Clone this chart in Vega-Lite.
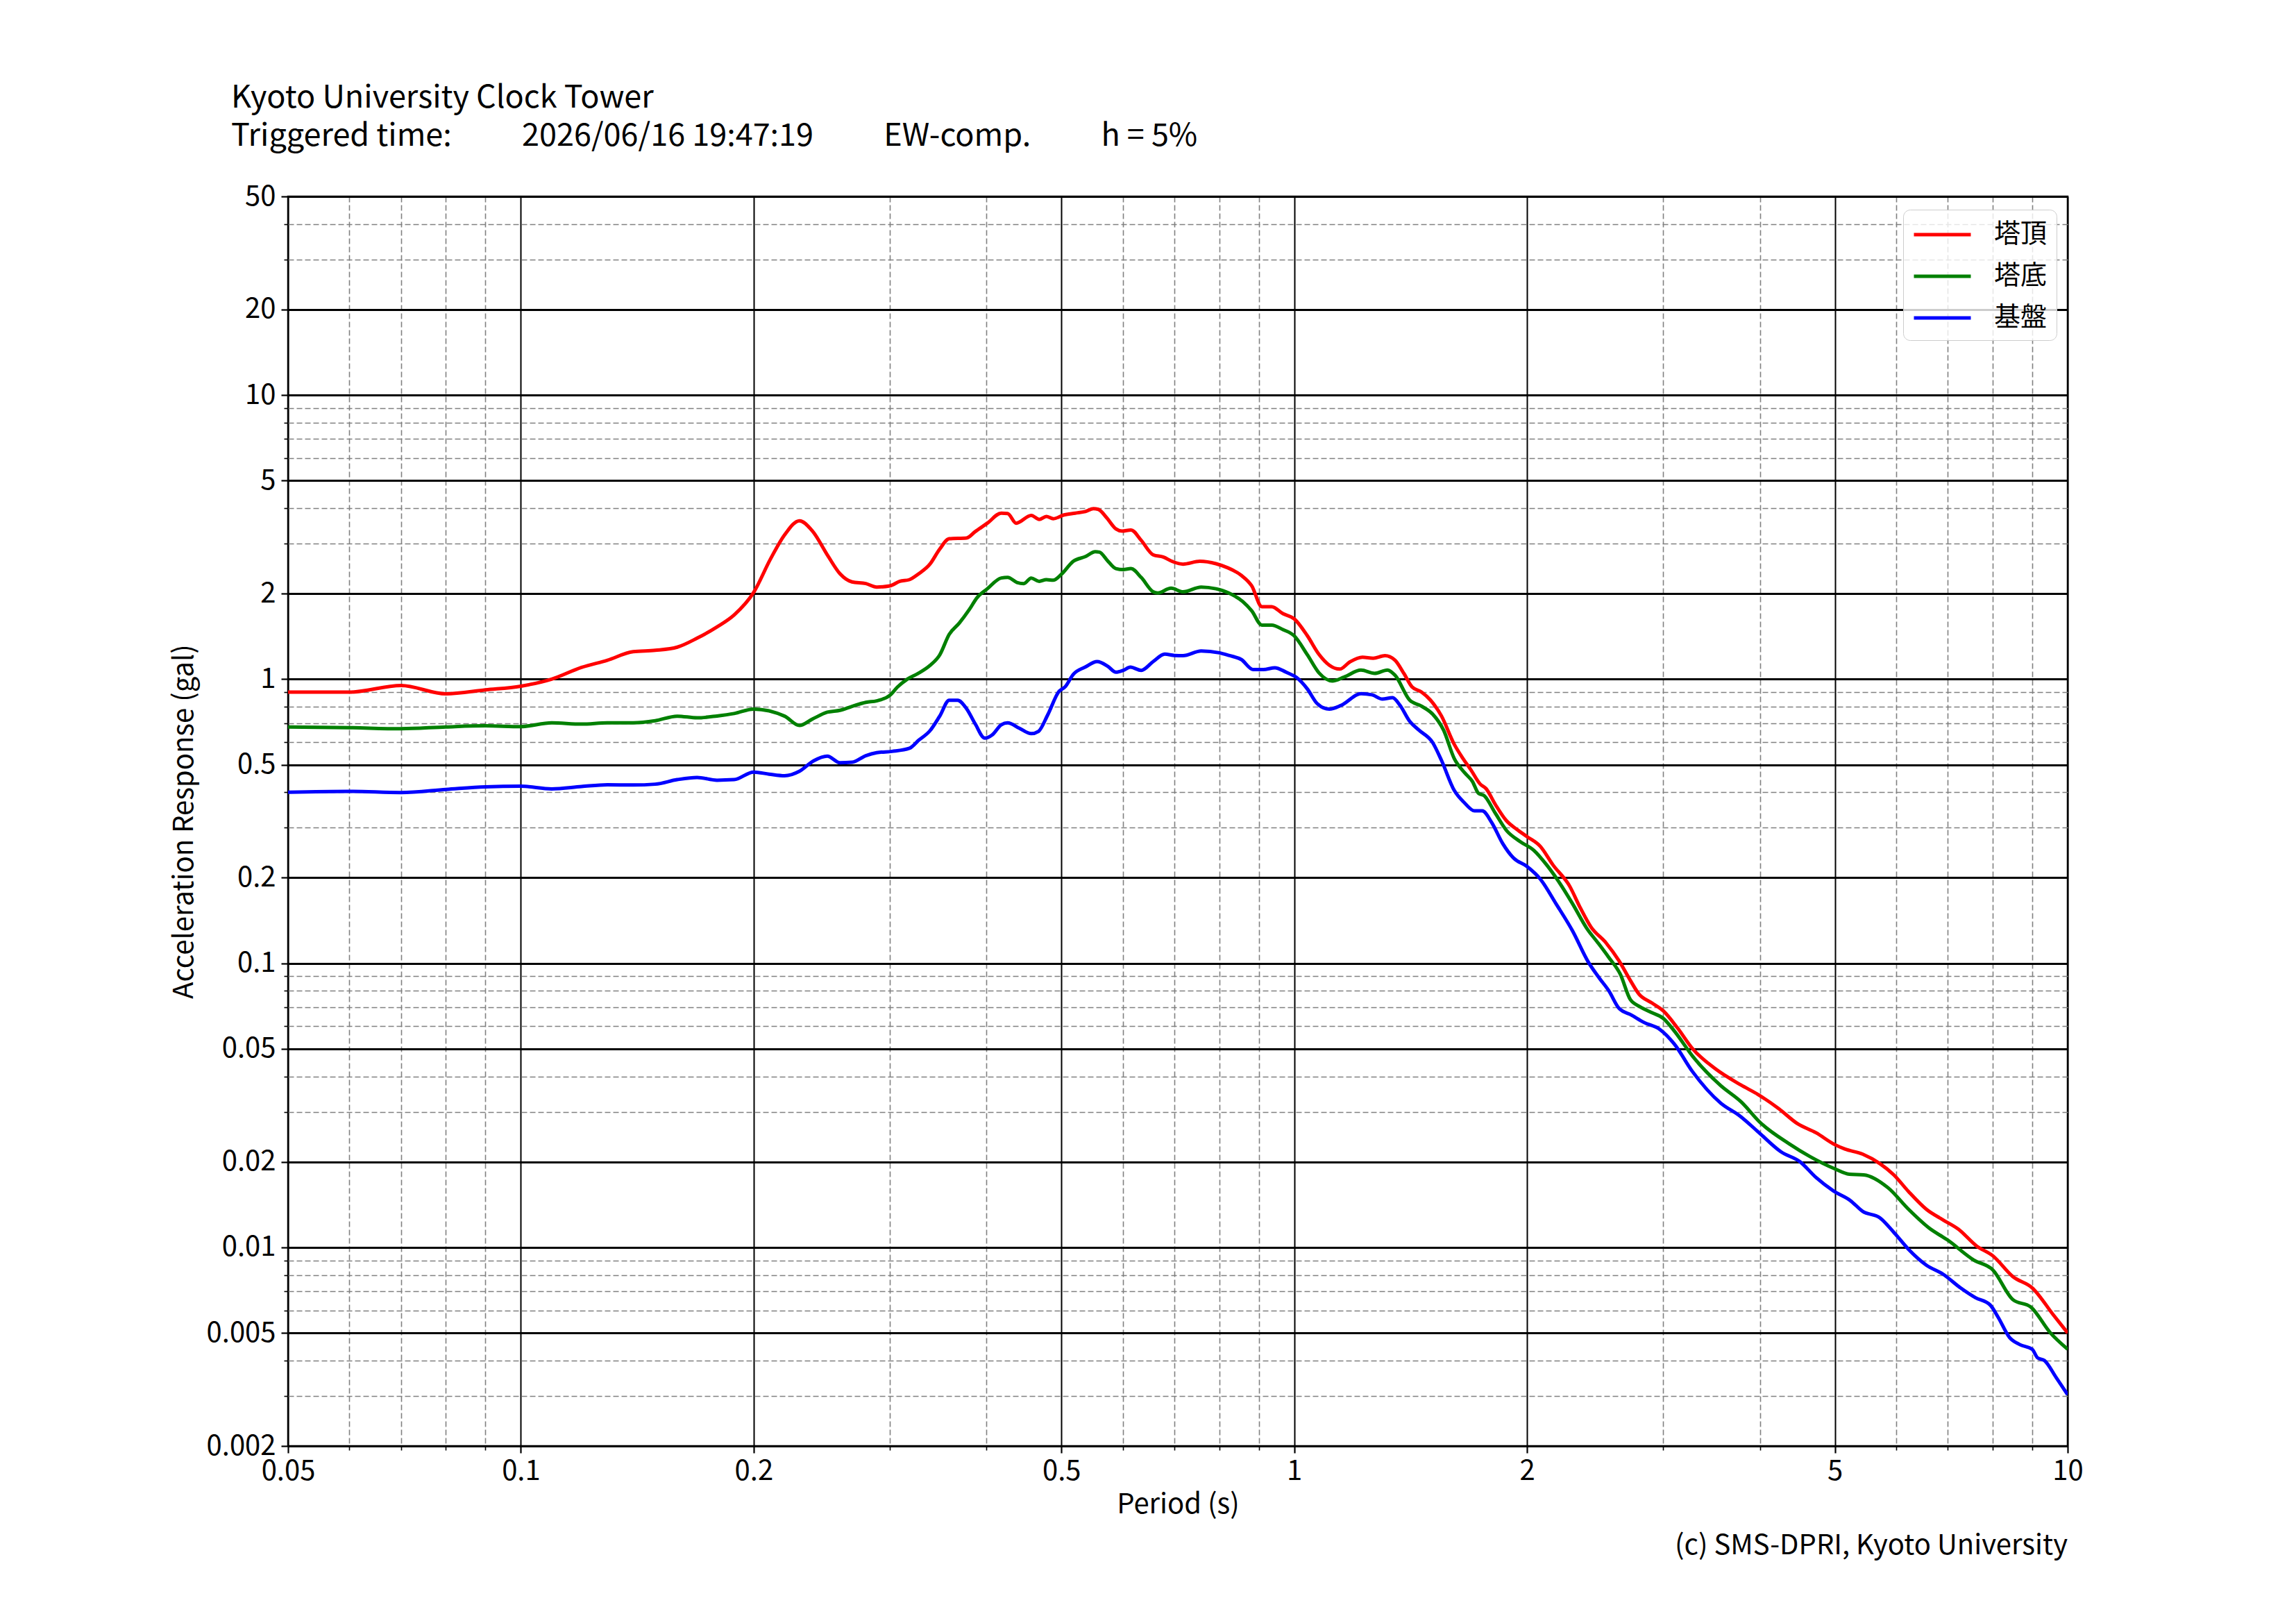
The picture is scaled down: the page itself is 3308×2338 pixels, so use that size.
{
  "$schema": "https://vega.github.io/schema/vega-lite/v6.json",
  "background": "white",
  "padding": {"left": 243, "top": 118, "right": 40, "bottom": 40},
  "title": {
    "text": [
      "Kyoto University Clock Tower",
      "Triggered time:\u2003\u2003\u20052026/06/16 19:47:19\u2003\u2003\u2005EW-comp.\u2003\u2003\u2005h = 5%"
    ],
    "anchor": "start",
    "frame": "group",
    "font": "Noto Sans CJK JP",
    "fontSize": 45,
    "fontWeight": "normal",
    "lineHeight": 55,
    "color": "black",
    "dx": -82,
    "offset": 43
  },
  "vconcat": [
    {
      "width": 2564,
      "height": 1800,
      "title": {
        "text": "(c) SMS-DPRI, Kyoto University",
        "orient": "bottom",
        "anchor": "end",
        "frame": "group",
        "font": "Noto Sans CJK JP",
        "fontSize": 40,
        "fontWeight": "normal",
        "color": "black",
        "offset": 20
      },
      "data": {
        "values": [
          {"series": "塔頂", "period": 0.05, "acc": 0.9},
          {"series": "塔頂", "period": 0.06, "acc": 0.9},
          {"series": "塔頂", "period": 0.07, "acc": 0.95},
          {"series": "塔頂", "period": 0.08, "acc": 0.888},
          {"series": "塔頂", "period": 0.09, "acc": 0.917},
          {"series": "塔頂", "period": 0.1, "acc": 0.945},
          {"series": "塔頂", "period": 0.1096, "acc": 1.0},
          {"series": "塔頂", "period": 0.1198, "acc": 1.1},
          {"series": "塔頂", "period": 0.1294, "acc": 1.166},
          {"series": "塔頂", "period": 0.1397, "acc": 1.249},
          {"series": "塔頂", "period": 0.1492, "acc": 1.263},
          {"series": "塔頂", "period": 0.1593, "acc": 1.296},
          {"series": "塔頂", "period": 0.169, "acc": 1.394},
          {"series": "塔頂", "period": 0.1793, "acc": 1.527},
          {"series": "塔頂", "period": 0.1887, "acc": 1.683},
          {"series": "塔頂", "period": 0.2, "acc": 2.02},
          {"series": "塔頂", "period": 0.2103, "acc": 2.65},
          {"series": "塔頂", "period": 0.2193, "acc": 3.22},
          {"series": "塔頂", "period": 0.2292, "acc": 3.61},
          {"series": "塔頂", "period": 0.2383, "acc": 3.32},
          {"series": "塔頂", "period": 0.2496, "acc": 2.71},
          {"series": "塔頂", "period": 0.2586, "acc": 2.35},
          {"series": "塔頂", "period": 0.268, "acc": 2.2},
          {"series": "塔頂", "period": 0.2793, "acc": 2.17},
          {"series": "塔頂", "period": 0.2885, "acc": 2.11},
          {"series": "塔頂", "period": 0.3, "acc": 2.13},
          {"series": "塔頂", "period": 0.309, "acc": 2.21},
          {"series": "塔頂", "period": 0.318, "acc": 2.24},
          {"series": "塔頂", "period": 0.327, "acc": 2.35},
          {"series": "塔頂", "period": 0.338, "acc": 2.54},
          {"series": "塔頂", "period": 0.348, "acc": 2.87},
          {"series": "塔頂", "period": 0.358, "acc": 3.12},
          {"series": "塔頂", "period": 0.377, "acc": 3.14},
          {"series": "塔頂", "period": 0.387, "acc": 3.31},
          {"series": "塔頂", "period": 0.401, "acc": 3.54},
          {"series": "塔頂", "period": 0.418, "acc": 3.84},
          {"series": "塔頂", "period": 0.426, "acc": 3.83},
          {"series": "塔頂", "period": 0.437, "acc": 3.54},
          {"series": "塔頂", "period": 0.457, "acc": 3.77},
          {"series": "塔頂", "period": 0.468, "acc": 3.65},
          {"series": "塔頂", "period": 0.478, "acc": 3.74},
          {"series": "塔頂", "period": 0.488, "acc": 3.67},
          {"series": "塔頂", "period": 0.503, "acc": 3.78},
          {"series": "塔頂", "period": 0.521, "acc": 3.84},
          {"series": "塔頂", "period": 0.537, "acc": 3.89},
          {"series": "塔頂", "period": 0.55, "acc": 3.98},
          {"series": "塔頂", "period": 0.558, "acc": 3.96},
          {"series": "塔頂", "period": 0.572, "acc": 3.7},
          {"series": "塔頂", "period": 0.588, "acc": 3.38},
          {"series": "塔頂", "period": 0.599, "acc": 3.32},
          {"series": "塔頂", "period": 0.615, "acc": 3.35},
          {"series": "塔頂", "period": 0.634, "acc": 3.08},
          {"series": "塔頂", "period": 0.657, "acc": 2.74},
          {"series": "塔頂", "period": 0.677, "acc": 2.69},
          {"series": "塔頂", "period": 0.697, "acc": 2.59},
          {"series": "塔頂", "period": 0.718, "acc": 2.54},
          {"series": "塔頂", "period": 0.755, "acc": 2.6},
          {"series": "塔頂", "period": 0.792, "acc": 2.55},
          {"series": "塔頂", "period": 0.819, "acc": 2.47},
          {"series": "塔頂", "period": 0.854, "acc": 2.32},
          {"series": "塔頂", "period": 0.881, "acc": 2.13},
          {"series": "塔頂", "period": 0.908, "acc": 1.8},
          {"series": "塔頂", "period": 0.935, "acc": 1.8},
          {"series": "塔頂", "period": 0.967, "acc": 1.7},
          {"series": "塔頂", "period": 1.0, "acc": 1.63},
          {"series": "塔頂", "period": 1.04, "acc": 1.42},
          {"series": "塔頂", "period": 1.077, "acc": 1.22},
          {"series": "塔頂", "period": 1.11, "acc": 1.12},
          {"series": "塔頂", "period": 1.145, "acc": 1.085},
          {"series": "塔頂", "period": 1.18, "acc": 1.15},
          {"series": "塔頂", "period": 1.225, "acc": 1.195},
          {"series": "塔頂", "period": 1.265, "acc": 1.185},
          {"series": "塔頂", "period": 1.31, "acc": 1.21},
          {"series": "塔頂", "period": 1.35, "acc": 1.166},
          {"series": "塔頂", "period": 1.386, "acc": 1.047},
          {"series": "塔頂", "period": 1.42, "acc": 0.939},
          {"series": "塔頂", "period": 1.46, "acc": 0.902},
          {"series": "塔頂", "period": 1.5, "acc": 0.844},
          {"series": "塔頂", "period": 1.55, "acc": 0.742},
          {"series": "塔頂", "period": 1.61, "acc": 0.59},
          {"series": "塔頂", "period": 1.65, "acc": 0.529},
          {"series": "塔頂", "period": 1.69, "acc": 0.482},
          {"series": "塔頂", "period": 1.74, "acc": 0.427},
          {"series": "塔頂", "period": 1.77, "acc": 0.412},
          {"series": "塔頂", "period": 1.82, "acc": 0.362},
          {"series": "塔頂", "period": 1.88, "acc": 0.318},
          {"series": "塔頂", "period": 1.94, "acc": 0.296},
          {"series": "塔頂", "period": 2.0, "acc": 0.279},
          {"series": "塔頂", "period": 2.08, "acc": 0.258},
          {"series": "塔頂", "period": 2.16, "acc": 0.222},
          {"series": "塔頂", "period": 2.27, "acc": 0.187},
          {"series": "塔頂", "period": 2.34, "acc": 0.158},
          {"series": "塔頂", "period": 2.42, "acc": 0.134},
          {"series": "塔頂", "period": 2.53, "acc": 0.118},
          {"series": "塔頂", "period": 2.63, "acc": 0.102},
          {"series": "塔頂", "period": 2.72, "acc": 0.087},
          {"series": "塔頂", "period": 2.79, "acc": 0.078},
          {"series": "塔頂", "period": 2.9, "acc": 0.0725},
          {"series": "塔頂", "period": 3.0, "acc": 0.068},
          {"series": "塔頂", "period": 3.13, "acc": 0.0592},
          {"series": "塔頂", "period": 3.27, "acc": 0.0502},
          {"series": "塔頂", "period": 3.5, "acc": 0.0426},
          {"series": "塔頂", "period": 3.78, "acc": 0.0373},
          {"series": "塔頂", "period": 3.98, "acc": 0.0345},
          {"series": "塔頂", "period": 4.23, "acc": 0.0308},
          {"series": "塔頂", "period": 4.47, "acc": 0.0273},
          {"series": "塔頂", "period": 4.73, "acc": 0.0253},
          {"series": "塔頂", "period": 5.0, "acc": 0.023},
          {"series": "塔頂", "period": 5.15, "acc": 0.0222},
          {"series": "塔頂", "period": 5.43, "acc": 0.0213},
          {"series": "塔頂", "period": 5.72, "acc": 0.0197},
          {"series": "塔頂", "period": 5.96, "acc": 0.018},
          {"series": "塔頂", "period": 6.23, "acc": 0.0157},
          {"series": "塔頂", "period": 6.57, "acc": 0.0136},
          {"series": "塔頂", "period": 6.9, "acc": 0.0125},
          {"series": "塔頂", "period": 7.22, "acc": 0.0116},
          {"series": "塔頂", "period": 7.63, "acc": 0.0101},
          {"series": "塔頂", "period": 8.0, "acc": 0.00935},
          {"series": "塔頂", "period": 8.5, "acc": 0.00788},
          {"series": "塔頂", "period": 9.0, "acc": 0.0072},
          {"series": "塔頂", "period": 9.6, "acc": 0.00575},
          {"series": "塔頂", "period": 10.0, "acc": 0.005},
          {"series": "塔底", "period": 0.05, "acc": 0.679},
          {"series": "塔底", "period": 0.06, "acc": 0.675},
          {"series": "塔底", "period": 0.07, "acc": 0.669},
          {"series": "塔底", "period": 0.08, "acc": 0.679},
          {"series": "塔底", "period": 0.09, "acc": 0.685},
          {"series": "塔底", "period": 0.1, "acc": 0.681},
          {"series": "塔底", "period": 0.1096, "acc": 0.702},
          {"series": "塔底", "period": 0.1198, "acc": 0.695},
          {"series": "塔底", "period": 0.1294, "acc": 0.702},
          {"series": "塔底", "period": 0.1397, "acc": 0.702},
          {"series": "塔底", "period": 0.1492, "acc": 0.714},
          {"series": "塔底", "period": 0.1593, "acc": 0.741},
          {"series": "塔底", "period": 0.169, "acc": 0.731},
          {"series": "塔底", "period": 0.1793, "acc": 0.742},
          {"series": "塔底", "period": 0.1887, "acc": 0.757},
          {"series": "塔底", "period": 0.2, "acc": 0.785},
          {"series": "塔底", "period": 0.2193, "acc": 0.741},
          {"series": "塔底", "period": 0.2292, "acc": 0.687},
          {"series": "塔底", "period": 0.2383, "acc": 0.724},
          {"series": "塔底", "period": 0.249, "acc": 0.765},
          {"series": "塔底", "period": 0.2586, "acc": 0.777},
          {"series": "塔底", "period": 0.268, "acc": 0.802},
          {"series": "塔底", "period": 0.2793, "acc": 0.829},
          {"series": "塔底", "period": 0.2885, "acc": 0.839},
          {"series": "塔底", "period": 0.3, "acc": 0.877},
          {"series": "塔底", "period": 0.307, "acc": 0.939},
          {"series": "塔底", "period": 0.316, "acc": 1.0},
          {"series": "塔底", "period": 0.326, "acc": 1.046},
          {"series": "塔底", "period": 0.338, "acc": 1.117},
          {"series": "塔底", "period": 0.348, "acc": 1.217},
          {"series": "塔底", "period": 0.358, "acc": 1.438},
          {"series": "塔底", "period": 0.369, "acc": 1.577},
          {"series": "塔底", "period": 0.38, "acc": 1.757},
          {"series": "塔底", "period": 0.389, "acc": 1.937},
          {"series": "塔底", "period": 0.401, "acc": 2.08},
          {"series": "塔底", "period": 0.418, "acc": 2.27},
          {"series": "塔底", "period": 0.426, "acc": 2.28},
          {"series": "塔底", "period": 0.438, "acc": 2.19},
          {"series": "塔底", "period": 0.447, "acc": 2.17},
          {"series": "塔底", "period": 0.457, "acc": 2.27},
          {"series": "塔底", "period": 0.468, "acc": 2.21},
          {"series": "塔底", "period": 0.478, "acc": 2.24},
          {"series": "塔底", "period": 0.488, "acc": 2.23},
          {"series": "塔底", "period": 0.5, "acc": 2.34},
          {"series": "塔底", "period": 0.518, "acc": 2.6},
          {"series": "塔底", "period": 0.537, "acc": 2.7},
          {"series": "塔底", "period": 0.553, "acc": 2.81},
          {"series": "塔底", "period": 0.56, "acc": 2.8},
          {"series": "塔底", "period": 0.573, "acc": 2.62},
          {"series": "塔底", "period": 0.588, "acc": 2.45},
          {"series": "塔底", "period": 0.601, "acc": 2.43},
          {"series": "塔底", "period": 0.615, "acc": 2.45},
          {"series": "塔底", "period": 0.634, "acc": 2.28},
          {"series": "塔底", "period": 0.657, "acc": 2.03},
          {"series": "塔底", "period": 0.666, "acc": 2.01},
          {"series": "塔底", "period": 0.693, "acc": 2.09},
          {"series": "塔底", "period": 0.718, "acc": 2.03},
          {"series": "塔底", "period": 0.758, "acc": 2.11},
          {"series": "塔底", "period": 0.792, "acc": 2.08},
          {"series": "塔底", "period": 0.823, "acc": 2.01},
          {"series": "塔底", "period": 0.858, "acc": 1.875},
          {"series": "塔底", "period": 0.881, "acc": 1.74},
          {"series": "塔底", "period": 0.908, "acc": 1.55},
          {"series": "塔底", "period": 0.935, "acc": 1.55},
          {"series": "塔底", "period": 0.967, "acc": 1.494},
          {"series": "塔底", "period": 1.0, "acc": 1.42},
          {"series": "塔底", "period": 1.04, "acc": 1.217},
          {"series": "塔底", "period": 1.077, "acc": 1.05},
          {"series": "塔底", "period": 1.12, "acc": 0.985},
          {"series": "塔底", "period": 1.16, "acc": 1.017},
          {"series": "塔底", "period": 1.22, "acc": 1.076},
          {"series": "塔底", "period": 1.27, "acc": 1.048},
          {"series": "塔底", "period": 1.32, "acc": 1.077},
          {"series": "塔底", "period": 1.35, "acc": 1.032},
          {"series": "塔底", "period": 1.41, "acc": 0.844},
          {"series": "塔底", "period": 1.46, "acc": 0.804},
          {"series": "塔底", "period": 1.51, "acc": 0.753},
          {"series": "塔底", "period": 1.56, "acc": 0.661},
          {"series": "塔底", "period": 1.61, "acc": 0.526},
          {"series": "塔底", "period": 1.66, "acc": 0.469},
          {"series": "塔底", "period": 1.7, "acc": 0.436},
          {"series": "塔底", "period": 1.73, "acc": 0.397},
          {"series": "塔底", "period": 1.76, "acc": 0.389},
          {"series": "塔底", "period": 1.82, "acc": 0.337},
          {"series": "塔底", "period": 1.88, "acc": 0.294},
          {"series": "塔底", "period": 1.96, "acc": 0.268},
          {"series": "塔底", "period": 2.04, "acc": 0.25},
          {"series": "塔底", "period": 2.12, "acc": 0.222},
          {"series": "塔底", "period": 2.2, "acc": 0.193},
          {"series": "塔底", "period": 2.29, "acc": 0.162},
          {"series": "塔底", "period": 2.39, "acc": 0.1325},
          {"series": "塔底", "period": 2.47, "acc": 0.118},
          {"series": "塔底", "period": 2.55, "acc": 0.105},
          {"series": "塔底", "period": 2.64, "acc": 0.0915},
          {"series": "塔底", "period": 2.72, "acc": 0.0745},
          {"series": "塔底", "period": 2.8, "acc": 0.0703},
          {"series": "塔底", "period": 2.9, "acc": 0.067},
          {"series": "塔底", "period": 3.0, "acc": 0.064},
          {"series": "塔底", "period": 3.1, "acc": 0.0578},
          {"series": "塔底", "period": 3.28, "acc": 0.0468},
          {"series": "塔底", "period": 3.56, "acc": 0.0371},
          {"series": "塔底", "period": 3.78, "acc": 0.0326},
          {"series": "塔底", "period": 4.01, "acc": 0.0274},
          {"series": "塔底", "period": 4.36, "acc": 0.0232},
          {"series": "塔底", "period": 4.64, "acc": 0.0209},
          {"series": "塔底", "period": 5.0, "acc": 0.0189},
          {"series": "塔底", "period": 5.22, "acc": 0.0181},
          {"series": "塔底", "period": 5.45, "acc": 0.018},
          {"series": "塔底", "period": 5.86, "acc": 0.0162},
          {"series": "塔底", "period": 6.23, "acc": 0.0136},
          {"series": "塔底", "period": 6.62, "acc": 0.0117},
          {"series": "塔底", "period": 7.0, "acc": 0.0106},
          {"series": "塔底", "period": 7.56, "acc": 0.00903},
          {"series": "塔底", "period": 8.0, "acc": 0.00834},
          {"series": "塔底", "period": 8.5, "acc": 0.00654},
          {"series": "塔底", "period": 8.96, "acc": 0.00617},
          {"series": "塔底", "period": 9.5, "acc": 0.005},
          {"series": "塔底", "period": 10.0, "acc": 0.00438},
          {"series": "基盤", "period": 0.05, "acc": 0.4},
          {"series": "基盤", "period": 0.06, "acc": 0.403},
          {"series": "基盤", "period": 0.07, "acc": 0.399},
          {"series": "基盤", "period": 0.08, "acc": 0.409},
          {"series": "基盤", "period": 0.09, "acc": 0.418},
          {"series": "基盤", "period": 0.1, "acc": 0.42},
          {"series": "基盤", "period": 0.1096, "acc": 0.411},
          {"series": "基盤", "period": 0.1198, "acc": 0.419},
          {"series": "基盤", "period": 0.1294, "acc": 0.425},
          {"series": "基盤", "period": 0.1397, "acc": 0.424},
          {"series": "基盤", "period": 0.1492, "acc": 0.427},
          {"series": "基盤", "period": 0.1593, "acc": 0.443},
          {"series": "基盤", "period": 0.169, "acc": 0.451},
          {"series": "基盤", "period": 0.1793, "acc": 0.441},
          {"series": "基盤", "period": 0.1887, "acc": 0.443},
          {"series": "基盤", "period": 0.2, "acc": 0.471},
          {"series": "基盤", "period": 0.2094, "acc": 0.463},
          {"series": "基盤", "period": 0.2193, "acc": 0.457},
          {"series": "基盤", "period": 0.2292, "acc": 0.474},
          {"series": "基盤", "period": 0.2391, "acc": 0.516},
          {"series": "基盤", "period": 0.249, "acc": 0.536},
          {"series": "基盤", "period": 0.2586, "acc": 0.508},
          {"series": "基盤", "period": 0.268, "acc": 0.51},
          {"series": "基盤", "period": 0.2793, "acc": 0.538},
          {"series": "基盤", "period": 0.2885, "acc": 0.551},
          {"series": "基盤", "period": 0.302, "acc": 0.557},
          {"series": "基盤", "period": 0.318, "acc": 0.571},
          {"series": "基盤", "period": 0.327, "acc": 0.61},
          {"series": "基盤", "period": 0.338, "acc": 0.658},
          {"series": "基盤", "period": 0.348, "acc": 0.741},
          {"series": "基盤", "period": 0.358, "acc": 0.843},
          {"series": "基盤", "period": 0.367, "acc": 0.843},
          {"series": "基盤", "period": 0.377, "acc": 0.787},
          {"series": "基盤", "period": 0.387, "acc": 0.694},
          {"series": "基盤", "period": 0.398, "acc": 0.62},
          {"series": "基盤", "period": 0.407, "acc": 0.637},
          {"series": "基盤", "period": 0.418, "acc": 0.691},
          {"series": "基盤", "period": 0.426, "acc": 0.702},
          {"series": "基盤", "period": 0.441, "acc": 0.672},
          {"series": "基盤", "period": 0.457, "acc": 0.643},
          {"series": "基盤", "period": 0.467, "acc": 0.655},
          {"series": "基盤", "period": 0.48, "acc": 0.749},
          {"series": "基盤", "period": 0.496, "acc": 0.903},
          {"series": "基盤", "period": 0.506, "acc": 0.943},
          {"series": "基盤", "period": 0.518, "acc": 1.04},
          {"series": "基盤", "period": 0.537, "acc": 1.104},
          {"series": "基盤", "period": 0.556, "acc": 1.153},
          {"series": "基盤", "period": 0.574, "acc": 1.11},
          {"series": "基盤", "period": 0.588, "acc": 1.058},
          {"series": "基盤", "period": 0.601, "acc": 1.074},
          {"series": "基盤", "period": 0.614, "acc": 1.102},
          {"series": "基盤", "period": 0.634, "acc": 1.074},
          {"series": "基盤", "period": 0.657, "acc": 1.153},
          {"series": "基盤", "period": 0.68, "acc": 1.225},
          {"series": "基盤", "period": 0.7, "acc": 1.212},
          {"series": "基盤", "period": 0.718, "acc": 1.21},
          {"series": "基盤", "period": 0.758, "acc": 1.257},
          {"series": "基盤", "period": 0.8, "acc": 1.238},
          {"series": "基盤", "period": 0.823, "acc": 1.212},
          {"series": "基盤", "period": 0.854, "acc": 1.173},
          {"series": "基盤", "period": 0.885, "acc": 1.081},
          {"series": "基盤", "period": 0.912, "acc": 1.081},
          {"series": "基盤", "period": 0.944, "acc": 1.097},
          {"series": "基盤", "period": 0.976, "acc": 1.058},
          {"series": "基盤", "period": 1.007, "acc": 1.013},
          {"series": "基盤", "period": 1.04, "acc": 0.923},
          {"series": "基盤", "period": 1.07, "acc": 0.822},
          {"series": "基盤", "period": 1.11, "acc": 0.784},
          {"series": "基盤", "period": 1.15, "acc": 0.809},
          {"series": "基盤", "period": 1.22, "acc": 0.889},
          {"series": "基盤", "period": 1.26, "acc": 0.881},
          {"series": "基盤", "period": 1.3, "acc": 0.851},
          {"series": "基盤", "period": 1.34, "acc": 0.861},
          {"series": "基盤", "period": 1.37, "acc": 0.809},
          {"series": "基盤", "period": 1.41, "acc": 0.711},
          {"series": "基盤", "period": 1.45, "acc": 0.661},
          {"series": "基盤", "period": 1.51, "acc": 0.598},
          {"series": "基盤", "period": 1.55, "acc": 0.518},
          {"series": "基盤", "period": 1.61, "acc": 0.406},
          {"series": "基盤", "period": 1.66, "acc": 0.367},
          {"series": "基盤", "period": 1.71, "acc": 0.344},
          {"series": "基盤", "period": 1.75, "acc": 0.344},
          {"series": "基盤", "period": 1.8, "acc": 0.313},
          {"series": "基盤", "period": 1.86, "acc": 0.264},
          {"series": "基盤", "period": 1.92, "acc": 0.235},
          {"series": "基盤", "period": 2.0, "acc": 0.219},
          {"series": "基盤", "period": 2.08, "acc": 0.198},
          {"series": "基盤", "period": 2.18, "acc": 0.162},
          {"series": "基盤", "period": 2.29, "acc": 0.13},
          {"series": "基盤", "period": 2.4, "acc": 0.101},
          {"series": "基盤", "period": 2.48, "acc": 0.0887},
          {"series": "基盤", "period": 2.55, "acc": 0.0802},
          {"series": "基盤", "period": 2.63, "acc": 0.0694},
          {"series": "基盤", "period": 2.73, "acc": 0.0657},
          {"series": "基盤", "period": 2.83, "acc": 0.062},
          {"series": "基盤", "period": 2.97, "acc": 0.0585},
          {"series": "基盤", "period": 3.1, "acc": 0.052},
          {"series": "基盤", "period": 3.27, "acc": 0.0417},
          {"series": "基盤", "period": 3.56, "acc": 0.0322},
          {"series": "基盤", "period": 3.77, "acc": 0.029},
          {"series": "基盤", "period": 3.98, "acc": 0.0255},
          {"series": "基盤", "period": 4.26, "acc": 0.0217},
          {"series": "基盤", "period": 4.51, "acc": 0.02},
          {"series": "基盤", "period": 4.73, "acc": 0.0176},
          {"series": "基盤", "period": 4.98, "acc": 0.0158},
          {"series": "基盤", "period": 5.24, "acc": 0.0146},
          {"series": "基盤", "period": 5.43, "acc": 0.0134},
          {"series": "基盤", "period": 5.72, "acc": 0.0127},
          {"series": "基盤", "period": 5.96, "acc": 0.0113},
          {"series": "基盤", "period": 6.23, "acc": 0.00983},
          {"series": "基盤", "period": 6.57, "acc": 0.00865},
          {"series": "基盤", "period": 6.9, "acc": 0.00805},
          {"series": "基盤", "period": 7.27, "acc": 0.0072},
          {"series": "基盤", "period": 7.6, "acc": 0.00665},
          {"series": "基盤", "period": 7.94, "acc": 0.00627},
          {"series": "基盤", "period": 8.13, "acc": 0.00568},
          {"series": "基盤", "period": 8.41, "acc": 0.00482},
          {"series": "基盤", "period": 8.67, "acc": 0.00455},
          {"series": "基盤", "period": 9.0, "acc": 0.00438},
          {"series": "基盤", "period": 9.14, "acc": 0.00409},
          {"series": "基盤", "period": 9.33, "acc": 0.004},
          {"series": "基盤", "period": 9.66, "acc": 0.00349},
          {"series": "基盤", "period": 10.0, "acc": 0.00303}
        ]
      },
      "mark": {"type": "line", "strokeWidth": 5, "interpolate": "monotone", "clip": true},
      "encoding": {
        "x": {
          "field": "period",
          "type": "quantitative",
          "scale": {"type": "log", "domain": [0.05, 10], "nice": false},
          "axis": {
            "title": "Period (s)",
            "values": [0.05, 0.06, 0.07, 0.08, 0.09, 0.1, 0.2, 0.3, 0.4, 0.5, 0.6, 0.7, 0.8, 0.9, 1, 2, 3, 4, 5, 6, 7, 8, 9, 10],
            "labelExpr": "indexof([0.05, 0.1, 0.2, 0.5, 1, 2, 5, 10], datum.value) >= 0 ? '' + datum.value : ''",
            "gridColor": {"condition": {"test": "indexof([0.05, 0.1, 0.2, 0.5, 1, 2, 5, 10], datum.value) >= 0", "value": "black"}, "value": "#808080"},
            "gridDash": {"condition": {"test": "indexof([0.05, 0.1, 0.2, 0.5, 1, 2, 5, 10], datum.value) >= 0", "value": []}, "value": [8, 4]},
            "gridWidth": {"condition": {"test": "indexof([0.05, 0.1, 0.2, 0.5, 1, 2, 5, 10], datum.value) >= 0", "value": 2}, "value": 1.6},
            "tickSize": {"condition": {"test": "indexof([0.05, 0.1, 0.2, 0.5, 1, 2, 5, 10], datum.value) >= 0", "value": 10}, "value": 6},
            "tickWidth": {"condition": {"test": "indexof([0.05, 0.1, 0.2, 0.5, 1, 2, 5, 10], datum.value) >= 0", "value": 2.2}, "value": 1.6},
            "labelPadding": 6,
            "titlePadding": 8
          }
        },
        "y": {
          "field": "acc",
          "type": "quantitative",
          "scale": {"type": "log", "domain": [0.002, 50], "nice": false},
          "axis": {
            "title": "Acceleration Response (gal)",
            "values": [0.002, 0.003, 0.004, 0.005, 0.006, 0.007, 0.008, 0.009, 0.01, 0.02, 0.03, 0.04, 0.05, 0.06, 0.07, 0.08, 0.09, 0.1, 0.2, 0.3, 0.4, 0.5, 0.6, 0.7, 0.8, 0.9, 1, 2, 3, 4, 5, 6, 7, 8, 9, 10, 20, 30, 40, 50],
            "labelExpr": "indexof([0.002, 0.005, 0.01, 0.02, 0.05, 0.1, 0.2, 0.5, 1, 2, 5, 10, 20, 50], datum.value) >= 0 ? '' + datum.value : ''",
            "gridColor": {"condition": {"test": "indexof([0.002, 0.005, 0.01, 0.02, 0.05, 0.1, 0.2, 0.5, 1, 2, 5, 10, 20, 50], datum.value) >= 0", "value": "black"}, "value": "#808080"},
            "gridDash": {"condition": {"test": "indexof([0.002, 0.005, 0.01, 0.02, 0.05, 0.1, 0.2, 0.5, 1, 2, 5, 10, 20, 50], datum.value) >= 0", "value": []}, "value": [8, 4]},
            "gridWidth": {"condition": {"test": "indexof([0.002, 0.005, 0.01, 0.02, 0.05, 0.1, 0.2, 0.5, 1, 2, 5, 10, 20, 50], datum.value) >= 0", "value": 2.8}, "value": 1.6},
            "tickSize": {"condition": {"test": "indexof([0.002, 0.005, 0.01, 0.02, 0.05, 0.1, 0.2, 0.5, 1, 2, 5, 10, 20, 50], datum.value) >= 0", "value": 10}, "value": 6},
            "tickWidth": {"condition": {"test": "indexof([0.002, 0.005, 0.01, 0.02, 0.05, 0.1, 0.2, 0.5, 1, 2, 5, 10, 20, 50], datum.value) >= 0", "value": 2.2}, "value": 1.6},
            "labelPadding": 8,
            "titlePadding": 12
          }
        },
        "color": {
          "field": "series",
          "type": "nominal",
          "scale": {"domain": ["塔頂", "塔底", "基盤"], "range": ["#ff0000", "#008000", "#0000ff"]},
          "legend": {
            "title": null,
            "orient": "none",
            "legendX": 2327,
            "legendY": 19,
            "symbolType": "M-1,0H3",
            "symbolSize": 1681,
            "symbolStrokeWidth": 5,
            "labelFontSize": 38,
            "labelOffset": 72,
            "padding": 13,
            "rowPadding": 18,
            "strokeColor": "#cccccc",
            "fillColor": "rgba(255,255,255,0.8)",
            "cornerRadius": 10
          }
        }
      }
    }
  ],
  "config": {
    "font": "Noto Sans CJK JP",
    "view": {"stroke": "black", "strokeWidth": 2.5},
    "axis": {
      "domain": false,
      "grid": true,
      "tickColor": "black",
      "labelColor": "black",
      "labelFontSize": 40,
      "labelOverlap": false,
      "labelFlush": false,
      "labelBound": false,
      "titleColor": "black",
      "titleFontSize": 40,
      "titleFontWeight": "normal"
    },
    "legend": {"labelColor": "black", "labelFont": "Noto Sans CJK JP"}
  }
}
